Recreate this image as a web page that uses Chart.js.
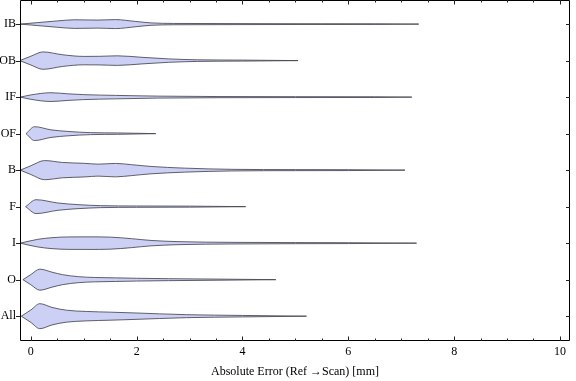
<!DOCTYPE html>
<html>
<head>
<meta charset="utf-8">
<script src="https://cdn.jsdelivr.net/npm/chart.js@4/dist/chart.umd.min.js"></script>
<style>
  html, body { margin: 0; padding: 0; background: #fff; }
  #wrap { width: 576px; height: 381px; position: relative; }
</style>
</head>
<body>
<div id="wrap"><canvas id="chart"></canvas></div>
<script>
// categories, top to bottom
const categories = ['IB', 'OB', 'IF', 'OF', 'B', 'F', 'I', 'O', 'All'];

// violin profiles: [error (mm), half width (in category spacing)]
const profIB = [[-0.2,0],[0.13,0.041],[0.51,0.088],[0.83,0.118],[1.27,0.110],[1.6,0.123],[1.97,0.074],[2.27,0.033],[2.7,0.018],[3.5,0.015],[4.5,0.012],[5.5,0.010],[6.5,0.009],[7.33,0]];
const profOB = [[-0.21,0],[0.0,0.12],[0.23,0.238],[0.6,0.16],[1.0,0.115],[1.3,0.118],[1.64,0.131],[2.1,0.09],[2.6,0.047],[3.15,0.022],[4.0,0.014],[5.05,0]];
const profIF = [[-0.2,0],[0.0,0.06],[0.38,0.12],[0.7,0.09],[1.0,0.068],[1.6,0.047],[2.4,0.027],[3.5,0.016],[5.0,0.012],[6.5,0.010],[7.2,0]];
const profOF = [[-0.09,0],[0.07,0.19],[0.38,0.104],[0.7,0.06],[1.13,0.027],[1.64,0.019],[2.36,0]];
const profB  = [[-0.2,0],[0.0,0.12],[0.26,0.262],[0.6,0.21],[1.02,0.186],[1.27,0.164],[1.6,0.184],[1.9,0.15],[2.27,0.101],[2.9,0.055],[3.8,0.022],[5.0,0.014],[6.0,0.012],[7.07,0]];
const profF  = [[-0.1,0],[0.1,0.19],[0.51,0.10],[0.89,0.055],[1.32,0.027],[2.0,0.018],[3.0,0.014],[4.06,0]];
const profI  = [[-0.2,0],[0.13,0.104],[0.4,0.15],[0.7,0.17],[1.1,0.172],[1.5,0.165],[1.9,0.123],[2.27,0.074],[2.8,0.041],[3.8,0.022],[5.0,0.015],[6.0,0.012],[7.29,0]];
const profO  = [[-0.15,0],[0.0,0.14],[0.17,0.288],[0.4,0.205],[0.6,0.137],[0.9,0.082],[1.2,0.06],[1.6,0.049],[2.0,0.038],[2.6,0.027],[3.5,0.016],[4.63,0]];
const profAll = [[-0.18,0],[0.0,0.17],[0.17,0.342],[0.4,0.24],[0.67,0.164],[1.05,0.129],[1.5,0.11],[1.93,0.09],[2.94,0.041],[4.0,0.02],[5.21,0]];

const profiles = [profIB, profOB, profIF, profOF, profB, profF, profI, profO, profAll];
const xTicks = [0, 2, 4, 6, 8, 10];

const fillColor = 'rgb(204,208,245)';
const lineColor = 'rgba(70,70,82,0.85)';

// upper edge + lower edge per violin, filled between
const datasets = [];
profiles.forEach((prof, i) => {
    datasets.push({
        data: prof.map(p => ({ x: p[0], y: i - p[1] })),
        borderColor: lineColor, borderWidth: 1, pointRadius: 0,
        cubicInterpolationMode: 'monotone', fill: false
    });
    datasets.push({
        data: prof.map(p => ({ x: p[0], y: i + p[1] })),
        borderColor: lineColor, borderWidth: 1, pointRadius: 0,
        cubicInterpolationMode: 'monotone', fill: '-1', backgroundColor: fillColor
    });
});

// frame with Mathematica-like ticks
const framePlugin = {
    id: 'frame',
    afterDraw(chart) {
        const { ctx, chartArea: a, scales: { x, y } } = chart;
        ctx.save();
        ctx.strokeStyle = '#000';
        ctx.lineWidth = 1;
        ctx.beginPath();
        ctx.rect(a.left + 0.5, a.top + 0.5, a.right - a.left - 1, a.bottom - a.top - 1);
        ctx.stroke();
        ctx.strokeStyle = '#222';
        ctx.beginPath();
        for (let v = 0; v <= 10.001; v += 0.5) {
            const px = Math.round(x.getPixelForValue(v)) + 0.5;
            const len = (Math.abs(v % 2) < 1e-6) ? 4.5 : 2.5;
            ctx.moveTo(px, a.bottom); ctx.lineTo(px, a.bottom - len);
            ctx.moveTo(px, a.top); ctx.lineTo(px, a.top + len);
        }
        categories.forEach((c, i) => {
            const py = Math.round(y.getPixelForValue(i)) + 0.5;
            ctx.moveTo(a.left - 4, py); ctx.lineTo(a.left, py);
            ctx.moveTo(a.right, py); ctx.lineTo(a.right - 4, py);
        });
        ctx.stroke();
        ctx.restore();
    }
};

new Chart(document.getElementById('chart'), {
    type: 'line',
    data: { datasets },
    options: {
        responsive: true,
        maintainAspectRatio: false,
        animation: false,
        layout: { padding: { top: 0, right: 6, left: 0, bottom: 0 } },
        plugins: { legend: { display: false }, tooltip: { enabled: false } },
        scales: {
            x: {
                type: 'linear', min: -0.205, max: 10.19,
                grid: { display: false, drawTicks: false }, border: { display: false },
                afterBuildTicks: s => { s.ticks = xTicks.map(v => ({ value: v })); },
                afterFit: s => { s.height = 40; s.paddingLeft = 0; s.paddingRight = 0; },
                ticks: { color: '#000', padding: 4, font: { family: 'Liberation Serif', size: 12 } },
                title: {
                    display: true, text: 'Absolute Error (Ref \u2192Scan) [mm]', color: '#000',
                    padding: { top: 0, bottom: 2 },
                    font: { family: 'Liberation Serif', size: 12 }
                }
            },
            y: {
                type: 'linear', min: -0.66, max: 8.68, reverse: true,
                grid: { display: false, drawTicks: false }, border: { display: false },
                afterBuildTicks: s => { s.ticks = categories.map((c, i) => ({ value: i })); },
                afterFit: s => { s.width = 20; s.paddingTop = 0; s.paddingBottom = 0; },
                ticks: {
                    color: '#000', padding: 4,
                    font: { family: 'Liberation Serif', size: 12 },
                    callback: v => categories[v]
                }
            }
        }
    },
    plugins: [framePlugin]
});
</script>
</body>
</html>
